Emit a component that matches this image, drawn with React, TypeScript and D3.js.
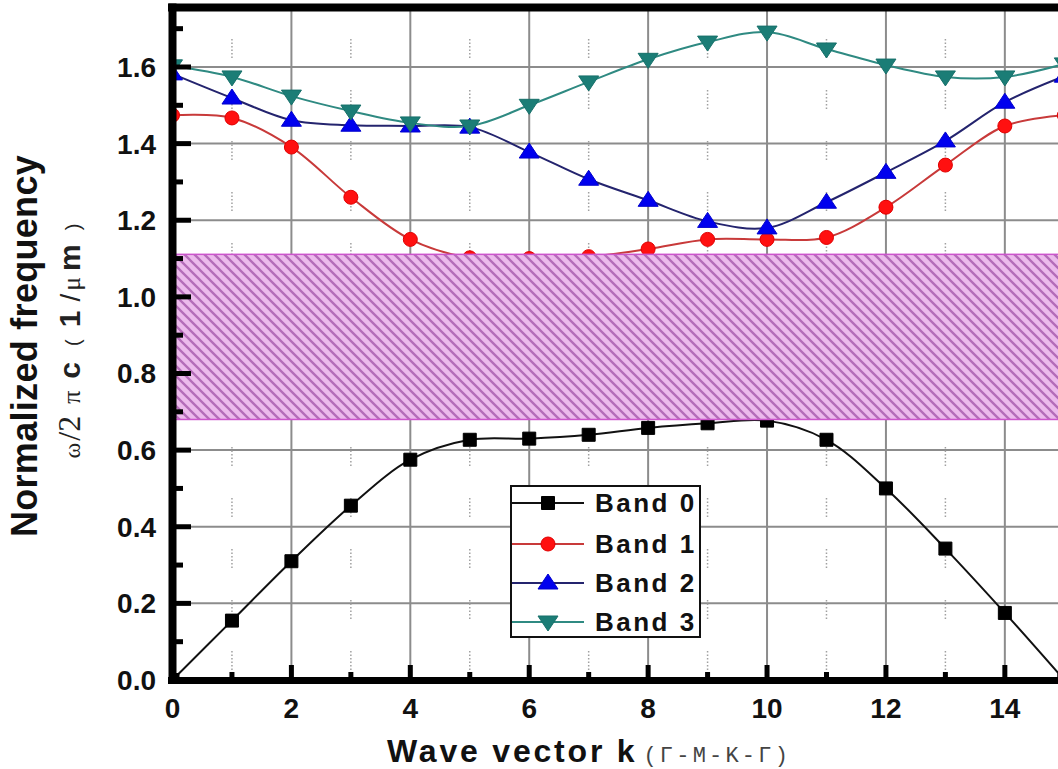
import React from "react";
import * as d3 from "d3";

const kValues = [0, 1, 2, 3, 4, 5, 6, 7, 8, 9, 10, 11, 12, 13, 14, 15];
const band0 = [0, 0.155, 0.31, 0.455, 0.575, 0.627, 0.63, 0.64, 0.658, 0.67, 0.677, 0.627, 0.5, 0.343, 0.175, 0];
const band1 = [1.474, 1.467, 1.391, 1.26, 1.15, 1.102, 1.1, 1.105, 1.125, 1.15, 1.15, 1.155, 1.234, 1.344, 1.446, 1.474];
const band2 = [1.582, 1.519, 1.461, 1.448, 1.446, 1.443, 1.378, 1.307, 1.252, 1.197, 1.18, 1.247, 1.325, 1.407, 1.508, 1.576];
const band3 = [1.603, 1.574, 1.524, 1.485, 1.454, 1.446, 1.5, 1.561, 1.62, 1.665, 1.691, 1.647, 1.605, 1.574, 1.574, 1.608];
const bandNames = ["Band 0", "Band 1", "Band 2", "Band 3"];
const gapBottom = 0.68;
const gapTop = 1.111;
const xMajorTicks = [0, 2, 4, 6, 8, 10, 12, 14];
const xMinorTicks = [1, 3, 5, 7, 9, 11, 13];
const yMajorTicks = [0, 0.2, 0.4, 0.6, 0.8, 1.0, 1.2, 1.4, 1.6];
const yMinorTicks = [0.1, 0.3, 0.5, 0.7, 0.9, 1.1, 1.3, 1.5, 1.7];

const W = 1058;
const H = 769;
const FONT = "'Liberation Sans', Arial, sans-serif";
const SERIF = "'Liberation Serif', 'Times New Roman', serif";

const x = d3.scaleLinear().domain([0, 15]).range([172.5, 1064.3]);
const y = d3.scaleLinear().domain([0, 1.755]).range([680, 7.6]);

const seriesStyle = [
  { line: "#111111", fill: "#000000", stroke: "#000000", marker: "square" },
  { line: "#c83a3a", fill: "#ff1010", stroke: "#e00000", marker: "circle" },
  { line: "#24246e", fill: "#0000ee", stroke: "#0000cc", marker: "up" },
  { line: "#2f8a82", fill: "#1b7d76", stroke: "#17706a", marker: "down" },
];

function markerPath(kind: string): string {
  if (kind === "square") return "M-6.5,-6.5H6.5V6.5H-6.5Z";
  if (kind === "circle") return "M-7,0A7,7 0 1,0 7,0A7,7 0 1,0 -7,0Z";
  if (kind === "up") return "M0,-9L10,6L-10,6Z";
  return "M0,9L10,-6L-10,-6Z";
}

export default function App() {
  const seriesData = [band0, band1, band2, band3];
  const line = d3
    .line<number>()
    .x((_, i) => x(kValues[i]))
    .y((d) => y(d))
    .curve(d3.curveCatmullRom.alpha(0.5));

  const plotLeft = x(0);
  const plotRight = W + 10;
  const plotTop = y(1.755);
  const plotBottom = y(0);

  const legendX = 511;
  const legendY = 486;
  const legendRows = [503, 544, 583, 622];

  return (
    <svg
      width={W}
      height={H}
      style={{ position: "absolute", left: 0, top: 0, background: "#fff" }}
      xmlns="http://www.w3.org/2000/svg"
    >
      <defs>
        <pattern id="hatch" patternUnits="userSpaceOnUse" width="10" height="10">
          <rect width="10" height="10" fill="#ecbaec" />
          <path d="M-2,-2L12,12M-2,8L2,12M8,-2L12,2" stroke="#b46cb9" strokeWidth="2.3" />
        </pattern>
        <clipPath id="plotClip">
          <rect x={plotLeft} y={plotTop} width={plotRight - plotLeft} height={plotBottom - plotTop} />
        </clipPath>
      </defs>
      <rect x={0} y={0} width={W} height={H} fill="#fff" />

      {/* grid */}
      <g>
        {yMajorTicks.filter((t) => t > 0).map((t) => (
          <line key={"gy" + t} x1={plotLeft} x2={plotRight} y1={y(t)} y2={y(t)} stroke="#8c8c8c" strokeWidth={2} />
        ))}
        {xMajorTicks.filter((t) => t > 0).map((t) => (
          <line key={"gx" + t} x1={x(t)} x2={x(t)} y1={plotTop} y2={plotBottom} stroke="#8c8c8c" strokeWidth={2} />
        ))}
        {xMinorTicks.map((t) => (
          <line
            key={"gm" + t}
            x1={x(t)}
            x2={x(t)}
            y1={plotBottom - 10}
            y2={plotTop}
            stroke="#a0a0a0"
            strokeWidth={1.5}
            strokeDasharray="1.5,2,1.5,2,1.5,2,1.5,2,1.5,2,1.5,32"
          />
        ))}
      </g>

      {/* series */}
      <g clipPath="url(#plotClip)">
        {seriesData.map((data, si) => (
          <path key={"l" + si} d={line(data) || ""} fill="none" stroke={seriesStyle[si].line} strokeWidth={2} />
        ))}
        {seriesData.map((data, si) =>
          data.map((v, i) => (
            <path
              key={"m" + si + "-" + i}
              d={markerPath(seriesStyle[si].marker)}
              transform={`translate(${x(kValues[i])},${y(v)})`}
              fill={seriesStyle[si].fill}
              stroke={seriesStyle[si].stroke}
              strokeWidth={1}
            />
          ))
        )}
      </g>

      {/* photonic band gap */}
      <rect
        x={plotLeft}
        y={y(gapTop)}
        width={plotRight - plotLeft}
        height={y(gapBottom) - y(gapTop)}
        fill="url(#hatch)"
        stroke="#cc55cc"
        strokeWidth={1.5}
      />

      {/* legend */}
      <g>
        <rect x={legendX} y={legendY} width={189} height={151} fill="#fff" stroke="#111" strokeWidth={2} />
        {bandNames.map((name, i) => (
          <g key={name}>
            <line x1={legendX + 1} x2={584} y1={legendRows[i]} y2={legendRows[i]} stroke={seriesStyle[i].line} strokeWidth={2} />
            <path
              d={markerPath(seriesStyle[i].marker)}
              transform={`translate(548,${legendRows[i]})`}
              fill={seriesStyle[i].fill}
              stroke={seriesStyle[i].stroke}
              strokeWidth={1}
            />
            <text
              x={595}
              y={legendRows[i] + 9}
              fontFamily={FONT}
              fontWeight="bold"
              fontSize={26}
              letterSpacing={2.5}
              fill="#111"
            >
              {name}
            </text>
          </g>
        ))}
      </g>

      {/* axes frame */}
      <line x1={168} x2={W + 10} y1={7.5} y2={7.5} stroke="#000" strokeWidth={8} />
      <line x1={172.5} x2={172.5} y1={3.5} y2={684} stroke="#000" strokeWidth={8} />
      <line x1={168} x2={W + 10} y1={680.5} y2={680.5} stroke="#000" strokeWidth={7} />

      {/* ticks */}
      {yMajorTicks.map((t) => (
        <line key={"ty" + t} x1={172} x2={191} y1={y(t)} y2={y(t)} stroke="#000" strokeWidth={5} />
      ))}
      {yMinorTicks.map((t) => (
        <line key={"tym" + t} x1={172} x2={183} y1={y(t)} y2={y(t)} stroke="#000" strokeWidth={5} />
      ))}
      {xMajorTicks.map((t) => (
        <line key={"tx" + t} x1={x(t)} x2={x(t)} y1={681} y2={665} stroke="#000" strokeWidth={5} />
      ))}
      {xMinorTicks.map((t) => (
        <line key={"txm" + t} x1={x(t)} x2={x(t)} y1={681} y2={672} stroke="#000" strokeWidth={5} />
      ))}

      {/* tick labels */}
      {yMajorTicks.map((t) => (
        <text
          key={"ly" + t}
          x={156}
          y={y(t) + 10}
          textAnchor="end"
          fontFamily={FONT}
          fontWeight="bold"
          fontSize={28}
          fill="#111"
        >
          {t.toFixed(1)}
        </text>
      ))}
      {xMajorTicks.map((t) => (
        <text
          key={"lx" + t}
          x={x(t)}
          y={718}
          textAnchor="middle"
          fontFamily={FONT}
          fontWeight="bold"
          fontSize={28}
          fill="#111"
        >
          {t}
        </text>
      ))}

      {/* axis titles */}
      <text x={387} y={762} fontFamily={FONT} fontWeight="bold" fontSize={32} letterSpacing={2.8} fill="#111">
        Wave vector k
        <tspan dx={6} fontFamily="'Liberation Mono', 'DejaVu Sans Mono', monospace" fontWeight="normal" fontSize={22} letterSpacing={3.2} fill="#444">
          (Γ-M-K-Γ)
        </tspan>
      </text>
      <text
        transform="translate(37,346) rotate(-90)"
        textAnchor="middle"
        fontFamily={FONT}
        fontWeight="bold"
        fontSize={36}
        letterSpacing={0.3}
        fill="#111"
      >
        Normalized frequency
      </text>
      <text transform="translate(80,341) rotate(-90)" textAnchor="middle" fill="#222">
        <tspan fontFamily={SERIF} fontSize={24}>ω</tspan>
        <tspan fontFamily={SERIF} fontSize={32} dx={2}>/2</tspan>
        <tspan fontFamily={SERIF} fontSize={26} dx={12}>π</tspan>
        <tspan fontFamily={FONT} fontWeight="bold" fontSize={30} dx={12}>c</tspan>
        <tspan fontFamily={FONT} fontSize={20} dx={16}>(</tspan>
        <tspan fontFamily={FONT} fontWeight="bold" fontSize={30} dx={12}>1</tspan>
        <tspan fontFamily={FONT} fontSize={28} dx={9}>/</tspan>
        <tspan fontFamily={SERIF} fontSize={26} dx={3}>μ</tspan>
        <tspan fontFamily={FONT} fontWeight="bold" fontSize={30} dx={6}>m</tspan>
        <tspan fontFamily={FONT} fontSize={20} dx={14}>)</tspan>
      </text>
    </svg>
  );
}
